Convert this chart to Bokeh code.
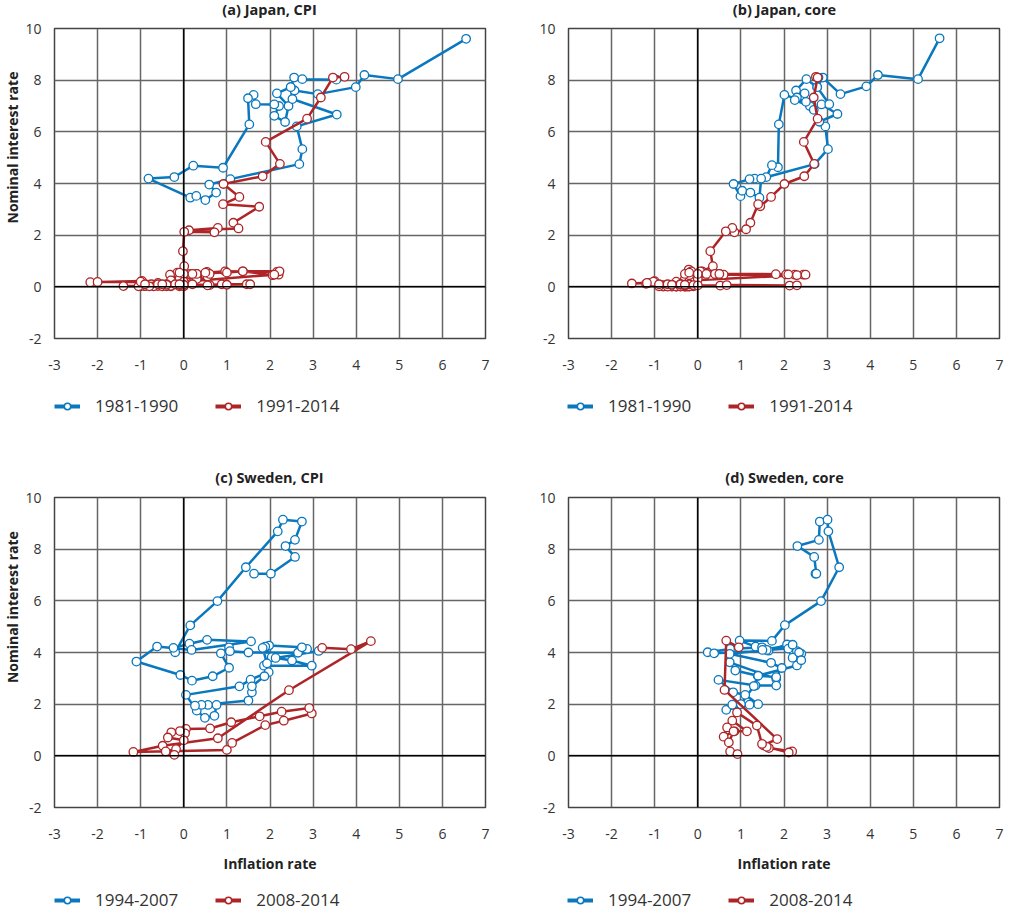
import math
from bokeh.plotting import figure
from bokeh.layouts import column, row
from bokeh.models import FixedTicker, Span, Legend, LegendItem, Range1d, Label
from bokeh.embed import file_html
from bokeh.resources import INLINE

# ---------------- data ----------------
# (a) Japan, CPI
ja_cpi_8190_x = [6.55, 4.97, 4.19, 3.99, 3.11, 2.57, 2.48, 2.16, 2.43, 2.35, 2.10, 2.21,
                 2.10, 1.67, 1.62, 1.49, 1.52, 0.91, 0.22, -0.22, -0.82, 0.15, 0.29, 0.50,
                 0.75, 0.59, 1.08, 2.68, 2.75, 2.62, 3.55, 2.52, 2.48, 2.56, 2.75, 3.54]
ja_cpi_8190_y = [9.60, 8.04, 8.20, 7.73, 7.46, 7.60, 7.73, 7.49, 7.00, 6.38, 6.62, 7.00,
                 7.06, 7.07, 7.43, 7.30, 6.29, 4.61, 4.69, 4.25, 4.19, 3.45, 3.52, 3.36,
                 3.65, 3.96, 4.17, 4.75, 5.33, 6.21, 6.67, 7.27, 7.73, 8.10, 8.04, 8.02]
ja_cpi_9114_x = [3.73, 3.46, 3.18, 2.86, 1.90, 2.23, 1.83, 0.92, 1.29, 0.91, 1.75, 1.15,
                 1.27, 0.12, 0.79, 0.71, 0.01, -0.02, 0.01, -0.15, 0.15, 0.50, -0.08, 0.54,
                 0.15, 0.96, 2.16, 2.20, 2.06, 1.37, 0.30, -0.32, -0.10, -0.30, -0.90, -1.40,
                 -0.60, -0.50, -0.75, -0.30, -0.60, -0.90, -1.00, -0.70, -1.05, -0.80, -0.50, -0.30,
                 -0.10, -0.40, 0.00, -0.30, -0.10, 0.20, 0.30, 0.55, 0.30, 0.60, 0.00, -0.10,
                 0.20, 0.50, 1.00, 1.37, 2.22, 2.10, 0.00, -0.97, -2.17, -2.00, -1.00, -0.90,
                 -0.60, -0.40, -0.10, -0.40, 0.00, 0.20, -0.20, -0.50, -0.10, 0.60, 0.88, 1.46,
                 1.54, 1.00, 0.55]
ja_cpi_9114_y = [8.13, 8.10, 7.33, 6.51, 5.61, 4.76, 4.28, 3.98, 3.48, 3.20, 3.10, 2.48,
                 2.26, 2.19, 2.28, 2.11, 2.13, 1.38, 0.80, 0.55, 0.47, 0.47, 0.47, 0.58,
                 0.50, 0.60, 0.58, 0.47, 0.45, 0.60, 0.50, 0.47, 0.30, 0.05, 0.03, 0.03,
                 0.03, 0.05, 0.10, 0.25, 0.15, 0.03, 0.02, 0.02, 0.02, 0.02, 0.02, 0.02,
                 0.02, 0.02, 0.02, 0.04, 0.08, 0.15, 0.30, 0.40, 0.50, 0.50, 0.50, 0.55,
                 0.50, 0.55, 0.55, 0.60, 0.60, 0.47, 0.20, 0.23, 0.18, 0.19, 0.20, 0.10,
                 0.10, 0.10, 0.08, 0.08, 0.08, 0.10, 0.10, 0.10, 0.10, 0.07, 0.10, 0.10,
                 0.10, 0.08, 0.06]

# (b) Japan, core
ja_core_8190_x = [5.61, 5.11, 4.18, 3.91, 3.31, 2.90, 2.77, 2.52, 2.28, 2.48, 2.30, 2.25,
                  2.60, 2.69, 2.51, 2.01, 1.88, 1.86, 1.72, 1.59, 1.32, 1.20, 0.83, 0.99,
                  1.03, 1.22, 1.43, 1.47, 2.71, 3.02, 2.96, 2.82, 3.24, 2.87, 3.05, 2.77, 2.80]
ja_core_8190_y = [9.62, 8.04, 8.20, 7.76, 7.46, 8.10, 7.73, 8.04, 7.60, 7.49, 7.33, 7.23,
                  7.00, 6.85, 7.16, 7.43, 6.29, 4.63, 4.71, 4.25, 4.19, 4.17, 3.98, 3.51,
                  3.72, 3.65, 3.45, 4.19, 4.75, 5.33, 6.21, 6.39, 6.69, 7.06, 7.07, 7.73, 8.10]
ja_core_9114_x = [2.74, 2.78, 2.69, 2.78, 2.46, 2.70, 2.47, 2.01, 1.70, 1.45, 1.40, 1.22,
                  1.12, 0.85, 0.80, 0.65, 0.29, 0.35, 0.10, -0.21, -0.15, 0.06, -0.20, 0.30,
                  0.50, 1.81, 2.05, 2.25, 2.45, 0.60, 0.30, -0.10, -0.30, -0.50, -1.00, -1.15,
                  -1.20, -1.03, -0.90, -0.80, -0.70, -0.60, -0.50, -0.40, -0.50, -0.60, -0.80, -0.90,
                  -0.70, -0.50, -0.30, -0.20, -0.30, -0.40, -0.25, -0.10, -0.20, -0.30, -0.40, -0.20,
                  -0.10, 0.00, -0.20, -0.30, -0.20, 0.00, 0.20, 0.40, 0.50, 2.10, 2.30, 2.50,
                  -1.53, -1.18, -0.90, -0.70, -0.60, -0.40, -0.30, -0.20, -0.40, -0.30, -0.10, 0.00,
                  0.52, 0.67, 2.13, 2.30]
ja_core_9114_y = [8.13, 8.10, 7.33, 6.51, 5.61, 4.76, 4.28, 3.98, 3.48, 3.12, 3.20, 2.48,
                  2.23, 2.11, 2.28, 2.15, 1.38, 0.80, 0.60, 0.67, 0.60, 0.60, 0.50, 0.47,
                  0.50, 0.49, 0.48, 0.47, 0.47, 0.47, 0.45, 0.35, 0.30, 0.20, 0.22, 0.15,
                  0.12, 0.20, 0.05, 0.03, 0.03, 0.02, 0.02, 0.02, 0.01, 0.01, 0.01, 0.02,
                  0.01, 0.01, 0.01, 0.01, 0.01, 0.01, 0.01, 0.02, 0.02, 0.05, 0.10, 0.20,
                  0.25, 0.30, 0.45, 0.50, 0.55, 0.50, 0.50, 0.50, 0.50, 0.48, 0.45, 0.47,
                  0.13, 0.15, 0.10, 0.10, 0.08, 0.08, 0.08, 0.10, 0.10, 0.08, 0.07, 0.06,
                  0.05, 0.07, 0.05, 0.06]

# (c) Sweden, CPI
sw_cpi_9407_x = [1.63, 2.02, 2.58, 2.36, 2.58, 2.74, 2.30, 2.18, 1.44, 0.78, 0.15, -0.20,
                 -0.24, 0.13, 0.54, 1.56, 0.18, -0.62, -1.10, -0.08, 0.19, 0.67, 1.05, 0.86,
                 1.05, 1.07, 1.50, 2.65, 2.86, 2.74, 1.98, 1.89, 2.04, 2.51, 2.97, 1.86,
                 1.97, 1.55, 1.29, 0.05, 0.30, 0.49, 0.71, 0.76, 0.56, 0.41, 0.26, 1.50,
                 1.58, 1.58, 1.87, 1.93, 1.83, 2.13, 3.13]
sw_cpi_9407_y = [7.05, 7.05, 7.70, 8.12, 8.36, 9.07, 9.14, 8.69, 7.30, 5.99, 5.05, 4.01,
                 4.18, 4.34, 4.49, 4.43, 4.10, 4.23, 3.65, 3.13, 2.91, 3.08, 3.41, 3.97,
                 4.20, 4.05, 4.00, 3.99, 4.14, 4.20, 4.27, 4.23, 3.82, 3.69, 3.49, 3.49,
                 3.24, 2.95, 2.69, 2.36, 1.75, 1.47, 1.55, 1.97, 1.97, 1.97, 1.94, 2.14,
                 2.46, 2.69, 3.08, 3.58, 4.18, 3.79, 4.06]
sw_cpi_0814_x = [3.21, 3.88, 4.34, 2.44, 0.79, -0.49, -1.17, 1.00, 1.12, 1.89, 2.32, 2.97,
                 2.91, 2.27, 1.76, 1.10, 0.61, 0.05, 0.03, -0.09, -0.29, -0.37, 0.00, -0.18,
                 -0.42, -0.22]
sw_cpi_0814_y = [4.18, 4.13, 4.44, 2.54, 0.68, 0.39, 0.15, 0.23, 0.50, 1.19, 1.36, 1.64,
                 1.85, 1.71, 1.53, 1.30, 1.06, 1.04, 0.87, 0.96, 0.91, 0.71, 0.60, 0.26,
                 0.17, 0.04]

# (d) Sweden, core
sw_core_9407_x = [2.73, 2.75, 2.70, 2.31, 2.81, 2.83, 3.01, 3.03, 3.28, 2.86, 2.02, 1.72,
                  0.97, 1.34, 1.49, 0.75, 0.23, 0.38, 1.64, 2.07, 2.20, 2.30, 2.40, 2.35,
                  2.20, 2.30, 1.39, 0.87, 0.74, 1.82, 1.82, 1.34, 0.48, 0.82, 1.10, 1.40,
                  1.20, 0.66, 0.80, 1.00, 1.30, 1.40, 1.82, 1.95, 1.70, 0.74, 1.60, 2.10,
                  2.35, 2.40, 2.20, 1.50]
sw_core_9407_y = [7.05, 7.05, 7.70, 8.12, 8.36, 9.07, 9.14, 8.69, 7.30, 5.99, 5.06, 4.45,
                  4.46, 4.23, 4.20, 4.14, 4.01, 3.97, 4.07, 4.31, 4.10, 4.05, 3.95, 3.75,
                  3.80, 3.50, 3.10, 3.30, 3.62, 2.98, 2.72, 2.72, 2.94, 2.46, 2.36, 2.00,
                  1.98, 1.78, 1.98, 2.00, 2.70, 3.10, 3.05, 3.40, 3.60, 3.95, 4.10, 4.15,
                  4.00, 3.70, 4.30, 4.10]
sw_core_0814_x = [0.95, 0.66, 0.62, 1.84, 1.52, 1.65, 2.19, 2.11, 1.60, 1.49, 1.37, 0.91,
                  0.80, 1.14, 0.85, 0.68, 0.60, 0.83, 0.72, 0.75, 0.92]
sw_core_0814_y = [4.20, 4.46, 2.55, 0.65, 0.41, 0.30, 0.17, 0.13, 0.35, 0.46, 1.17, 1.68,
                  1.36, 0.95, 0.95, 1.10, 0.74, 0.95, 0.52, 0.17, 0.07]

x_ticks = [-3, -2, -1, 0, 1, 2, 3, 4, 5, 6, 7]
y_ticks = [-2, 0, 2, 4, 6, 8, 10]

BLUE = "#0a78be"
RED = "#ae2528"
FONT = "Open Sans"


def blank(width, height):
    f = figure(width=width, height=height, output_backend="svg", toolbar_location=None,
               x_axis_location=None, y_axis_location=None,
               x_range=Range1d(0, width), y_range=Range1d(0, height),
               min_border_left=0, min_border_right=0, min_border_top=0, min_border_bottom=0)
    f.outline_line_color = None
    f.grid.visible = False
    f.background_fill_color = "white"
    f.border_fill_color = "white"
    return f


def title_strip(text, width, height, cx, cy_from_top):
    f = blank(width, height)
    f.add_layout(Label(x=cx, y=height - cy_from_top, text=text, text_align="center",
                       text_baseline="middle", text_font=FONT, text_font_size="14.5px",
                       text_font_style="bold", text_color="#222222"))
    return f


def ylabel_strip(text, width, height, cx, cy_from_top):
    f = blank(width, height)
    f.add_layout(Label(x=cx, y=height - cy_from_top, text=text, text_align="center",
                       text_baseline="middle", angle=math.pi / 2, text_font=FONT,
                       text_font_size="14px", text_font_style="bold", text_color="#222222"))
    return f


def make_panel(sx1, sy1, sx2, sy2, width, height, left, right, top, bottom, xlabel):
    p = figure(width=width, height=height, output_backend="svg", toolbar_location=None,
               x_range=Range1d(-3, 7), y_range=Range1d(-2, 10),
               min_border_left=left, min_border_right=right,
               min_border_top=top, min_border_bottom=bottom)
    p.outline_line_color = "#444444"
    p.outline_line_width = 1.5
    p.background_fill_color = "white"
    p.border_fill_color = "white"

    for ax, ticks in ((p.xaxis[0], x_ticks), (p.yaxis[0], y_ticks)):
        ax.ticker = FixedTicker(ticks=ticks)
        ax.major_label_overrides = {t: str(t) for t in ticks}
        ax.major_tick_line_color = None
        ax.minor_tick_line_color = None
        ax.axis_line_color = None
        ax.major_label_text_font = FONT
        ax.major_label_text_font_size = "14px"
        ax.major_label_text_color = "#333333"
        ax.axis_label_text_font = FONT
        ax.axis_label_text_font_size = "14px"
        ax.axis_label_text_font_style = "bold"
        ax.axis_label_text_color = "#222222"
    p.xaxis.major_label_standoff = 15
    p.yaxis.major_label_standoff = 7
    if xlabel:
        p.xaxis.axis_label = xlabel
        p.xaxis.axis_label_standoff = 12

    p.xgrid.ticker = FixedTicker(ticks=x_ticks)
    p.ygrid.ticker = FixedTicker(ticks=y_ticks)
    p.grid.grid_line_color = "#666666"
    p.grid.grid_line_width = 1.5
    p.grid.grid_line_alpha = 1.0

    p.add_layout(Span(location=0, dimension="height", line_color="black", line_width=1.5))
    p.add_layout(Span(location=0, dimension="width", line_color="black", line_width=1.5))

    for xs, ys, col in ((sx1, sy1, BLUE), (sx2, sy2, RED)):
        p.line(xs, ys, line_color=col, line_width=2.5, line_join="round")
        p.scatter(xs, ys, size=8.5, fill_color="white", line_color=col, line_width=1.3)
    return p


def make_legend(lab1, lab2, width, height, lx, ly):
    f = blank(width, height)
    items = []
    for lab, col in ((lab1, BLUE), (lab2, RED)):
        # off-range placeholder points: only the legend swatch is visible
        rl = f.line([-10, -9], [-10, -9], line_color=col, line_width=4)
        rc = f.scatter([-10], [-10], size=12, fill_color="white", line_color=col, line_width=1.5)
        items.append(LegendItem(label=lab, renderers=[rl, rc]))
    leg = Legend(items=items, orientation="horizontal", location=(lx, ly),
                 glyph_width=26, glyph_height=16, label_standoff=15, spacing=37,
                 padding=0, margin=0, border_line_color=None, background_fill_alpha=0,
                 label_text_font=FONT, label_text_font_size="17px", label_text_color="#333333")
    f.add_layout(leg, "center")
    return f


YL = 22  # width of the y-label strip

# top row: title strip 18, plot 362 (frame 28..338), legend 60
ta = title_strip("(a) Japan, CPI", 505, 18, 269, 9)
tb = title_strip("(b) Japan, core", 505, 18, 279, 9)
ya = ylabel_strip("Nominal interest rate", YL, 362, 12, 139)
pa = make_panel(ja_cpi_8190_x, ja_cpi_8190_y, ja_cpi_9114_x, ja_cpi_9114_y,
                505 - YL, 362, 54 - YL, 20, 10, 42, None)
pb = make_panel(ja_core_8190_x, ja_core_8190_y, ja_core_9114_x, ja_core_9114_y,
                505, 362, 63, 11, 10, 42, None)
la = make_legend("1981-1990", "1991-2014", 505, 60, 54, 23)
lb = make_legend("1981-1990", "1991-2014", 505, 60, 62, 23)

# bottom row: title strip 47, plot 393 (frame 497..807), legend 32
tc = title_strip("(c) Sweden, CPI", 505, 47, 269, 37)
td = title_strip("(d) Sweden, core", 505, 47, 279, 37)
yc = ylabel_strip("Nominal interest rate", YL, 393, 12, 139)
pc = make_panel(sw_cpi_9407_x, sw_cpi_9407_y, sw_cpi_0814_x, sw_cpi_0814_y,
                505 - YL, 393, 54 - YL, 20, 10, 73, "Inflation rate")
pd = make_panel(sw_core_9407_x, sw_core_9407_y, sw_core_0814_x, sw_core_0814_y,
                505, 393, 63, 11, 10, 73, "Inflation rate")
lc = make_legend("1994-2007", "2008-2014", 505, 32, 54, 1)
ld = make_legend("1994-2007", "2008-2014", 505, 32, 62, 1)

layout = column(row(ta, tb, spacing=0),
                row(ya, pa, pb, spacing=0),
                row(la, lb, spacing=0),
                row(tc, td, spacing=0),
                row(yc, pc, pd, spacing=0),
                row(lc, ld, spacing=0), spacing=0)
open("out.html", "w").write(file_html(layout, INLINE))
